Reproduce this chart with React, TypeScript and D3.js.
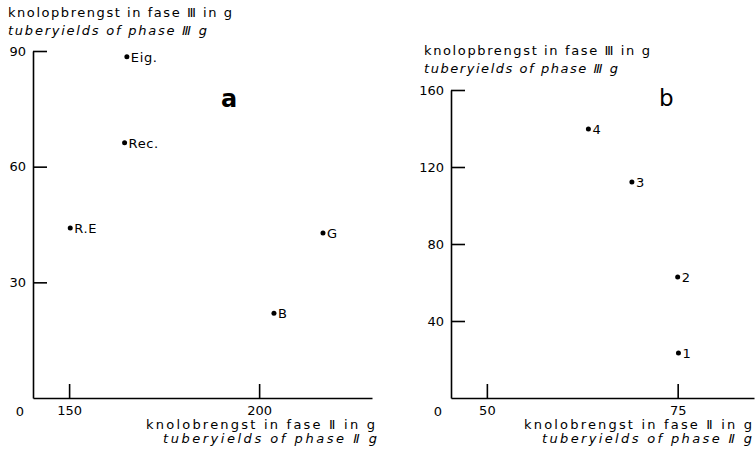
import React, { useRef, useEffect } from "react";
import * as d3 from "d3";

// panel a: cultivars, tuber yields phase II vs phase III (g)
const cultivarsA = ["Eig.", "Rec.", "R.E", "G", "B"];
const phase2A = [165.2, 164.6, 150.3, 216.8, 203.9];
const phase3A = [88.5, 66.2, 44.1, 42.8, 22];
const xTicksA = [150, 200];
const yTicksA = [30, 60, 90];

// panel b: numbered treatments
const treatmentsB = ["1", "2", "3", "4"];
const phase2B = [75.1, 75, 69, 63.3];
const phase3B = [23.4, 62.9, 112.2, 139.7];
const xTicksB = [50, 75];
const yTicksB = [40, 80, 120, 160];

const W = 756;
const H = 452;
const FONT = "'DejaVu Sans', sans-serif";

type PanelProps = {
  names: string[];
  xs: number[];
  ys: number[];
  xTicks: number[];
  yTicks: number[];
  xDomain: [number, number];
  yMax: number;
  left: number;
  right: number;
  top: number;
  bottom: number;
  letter: string;
  letterX: number;
  letterY: number;
  letterSize: number;
  letterWeight: string;
  titleX: number;
  titleY: number;
  titleLen: [number, number];
  labelLen: [number, number];
  labelEnd: [number, number];
};

const Panel = (p: PanelProps) => {
  const gRef = useRef<SVGGElement>(null);

  useEffect(() => {
    const g = d3.select(gRef.current);
    g.selectAll("*").remove();

    const x = d3.scaleLinear().domain(p.xDomain).range([p.left, p.right]);
    const y = d3.scaleLinear().domain([0, p.yMax]).range([p.bottom, p.top]);

    const yAxis = d3
      .axisLeft(y)
      .tickValues(p.yTicks)
      .tickSizeInner(-14)
      .tickSizeOuter(0)
      .tickPadding(7);
    const xAxis = d3
      .axisBottom(x)
      .tickValues(p.xTicks)
      .tickSizeInner(-14)
      .tickSizeOuter(0)
      .tickPadding(8);

    const ya = g
      .append("g")
      .attr("transform", `translate(${p.left},0)`)
      .call(yAxis);
    const xa = g
      .append("g")
      .attr("transform", `translate(0,${p.bottom})`)
      .call(xAxis);

    [ya, xa].forEach((a) => {
      a.attr("font-family", FONT).attr("font-size", 13);
      a.selectAll("path, line").attr("stroke", "#000").attr("stroke-width", 1.6);
      a.selectAll("text").attr("fill", "#000");
    });

    // origin label
    g.append("text")
      .attr("x", p.left - 13)
      .attr("y", p.bottom + 18)
      .attr("text-anchor", "middle")
      .attr("font-family", FONT)
      .attr("font-size", 13)
      .text("0");

    // points
    const pts = g.append("g");
    p.names.forEach((n, i) => {
      pts
        .append("circle")
        .attr("cx", x(p.xs[i]))
        .attr("cy", y(p.ys[i]))
        .attr("r", 2.5)
        .attr("fill", "#000");
      pts
        .append("text")
        .attr("x", x(p.xs[i]) + 4)
        .attr("y", y(p.ys[i]) + 5)
        .attr("font-family", FONT)
        .attr("font-size", 13)
        .attr("letter-spacing", 0.6)
        .text(n);
    });
  }, [p]);

  return (
    <g fontFamily={FONT} fontSize={13}>
      <text
        x={p.titleX}
        y={p.titleY}
        textLength={p.titleLen[0]}
        lengthAdjust="spacing"
      >
        knolopbrengst in fase Ⅲ in g
      </text>
      <text
        x={p.titleX}
        y={p.titleY + 18}
        fontStyle="italic"
        textLength={p.titleLen[1]}
        lengthAdjust="spacing"
      >
        tuberyields of phase Ⅲ g
      </text>
      <text
        x={p.letterX}
        y={p.letterY}
        fontSize={p.letterSize}
        fontWeight={p.letterWeight}
      >
        {p.letter}
      </text>
      <g ref={gRef} />
      <text
        x={p.labelEnd[0] - p.labelLen[0]}
        y={p.bottom + 31}
        textLength={p.labelLen[0]}
        lengthAdjust="spacing"
      >
        knolobrengst in fase Ⅱ in g
      </text>
      <text
        x={p.labelEnd[1] - p.labelLen[1]}
        y={p.bottom + 45}
        fontStyle="italic"
        textLength={p.labelLen[1]}
        lengthAdjust="spacing"
      >
        tuberyields of phase Ⅱ g
      </text>
    </g>
  );
};

export default function App() {
  return (
    <svg
      width={W}
      height={H}
      style={{ position: "absolute", left: 0, top: 0, background: "#fff" }}
    >
      <rect width={W} height={H} fill="#fff" />
      <Panel
        names={cultivarsA}
        xs={phase2A}
        ys={phase3A}
        xTicks={xTicksA}
        yTicks={yTicksA}
        xDomain={[140.5, 229.7]}
        yMax={90}
        left={33}
        right={372}
        top={51}
        bottom={398}
        letter="a"
        letterX={221}
        letterY={107}
        letterSize={24}
        letterWeight="bold"
        titleX={8}
        titleY={17}
        titleLen={[224, 199]}
        labelLen={[229, 214]}
        labelEnd={[375, 377]}
      />
      <Panel
        names={treatmentsB}
        xs={phase2B}
        ys={phase3B}
        xTicks={xTicksB}
        yTicks={yTicksB}
        xDomain={[45.3, 85]}
        yMax={160}
        left={451}
        right={754}
        top={90}
        bottom={398}
        letter="b"
        letterX={659}
        letterY={106}
        letterSize={23}
        letterWeight="normal"
        titleX={424}
        titleY={55}
        titleLen={[226, 194]}
        labelLen={[228, 210]}
        labelEnd={[752, 752]}
      />
    </svg>
  );
}
